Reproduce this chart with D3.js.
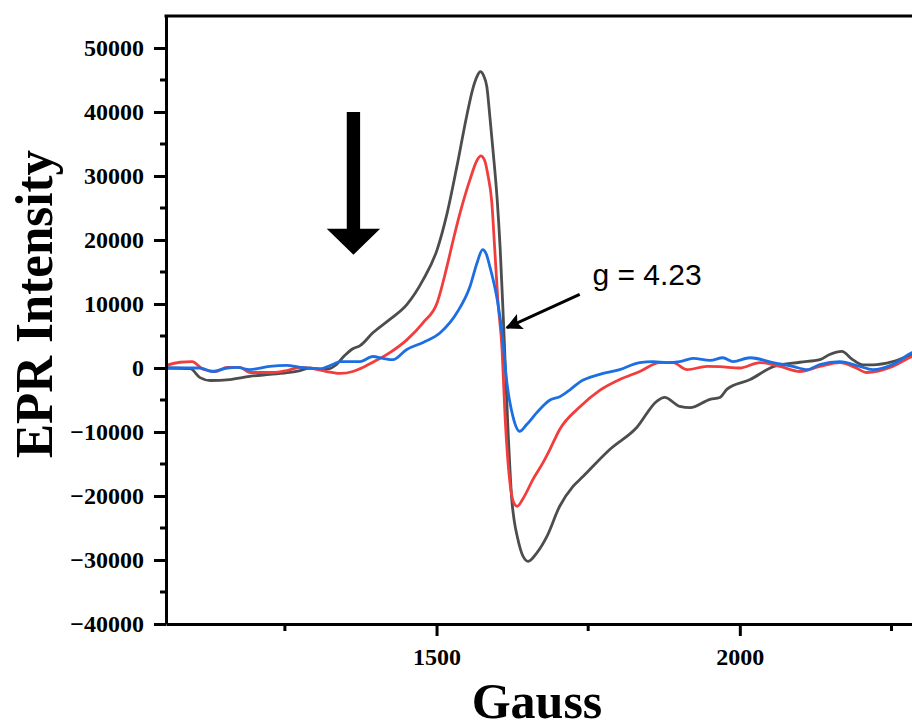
<!DOCTYPE html>
<html>
<head>
<meta charset="utf-8">
<script src="https://cdn.jsdelivr.net/npm/d3@7"></script>
<style>
  body { margin: 0; background: #fff; }
  .ticklabel { font-family: "Liberation Serif", "Times New Roman", serif; font-weight: bold; font-size: 24px; }
  .axistitle { font-family: "Liberation Serif", "Times New Roman", serif; font-weight: bold; }
  .note { font-family: "Liberation Sans", Arial, sans-serif; font-size: 30px; }
</style>
</head>
<body>
<div id="chart"></div>
<script>
// gauss, intensity
let grayData = [
  [1054, 0], [1094, -100], [1110, -1500], [1127, -1950], [1159, -1800], [1192, -1300],
  [1225, -1000], [1258, -700], [1275, -400], [1291, 0], [1308, -200], [1324, -100],
  [1333, 400], [1349, 2000], [1362, 3000], [1374, 3500], [1395, 5500], [1423, 7600],
  [1451, 9900], [1478, 13800], [1501, 18500], [1517, 24000], [1534, 31700], [1550, 39500],
  [1560, 43700], [1567, 45600], [1572, 46300], [1578, 45600], [1583, 43900], [1588, 39200],
  [1593, 34100], [1600, 26300], [1605, 18500], [1610, 8000], [1618, -10000], [1624, -20500],
  [1628, -23800], [1633, -26300], [1642, -29300], [1651, -30200], [1666, -28800], [1682, -26300],
  [1703, -21600], [1725, -18500], [1741, -17000], [1786, -12700], [1830, -9300], [1863, -5200],
  [1876, -4600], [1901, -6000], [1918, -6200], [1951, -4900], [1967, -4600], [1979, -3300],
  [2017, -1800], [2055, 200], [2099, 900], [2132, 1300], [2148, 2100], [2168, 2600],
  [2186, 1300], [2203, 500], [2219, 500], [2252, 1000], [2284, 2100], [2310, 2800]
];

let redData = [
  [1054, 400], [1077, 900], [1097, 1000], [1115, -200], [1135, -550], [1155, 100],
  [1176, 100], [1192, -700], [1209, -700], [1230, -700], [1253, -400], [1275, 100],
  [1296, -100], [1319, -550], [1341, -850], [1362, -550], [1374, -100], [1395, 900],
  [1423, 2400], [1451, 4400], [1478, 7100], [1501, 10200], [1517, 15800], [1527, 19800],
  [1539, 24300], [1555, 29400], [1567, 32500], [1573, 33150], [1579, 32500], [1585, 30000],
  [1591, 26000], [1596, 18500], [1601, 10700], [1608, 2900], [1613, -7600], [1621, -17900],
  [1628, -21200], [1633, -21600], [1642, -20500], [1659, -17400], [1676, -14700], [1687, -12700],
  [1703, -9600], [1736, -6100], [1769, -3500], [1802, -1800], [1835, -550], [1868, 850],
  [1890, 850], [1913, -250], [1946, 250], [1967, 200], [2000, 0], [2033, 850],
  [2066, 250], [2099, -550], [2132, 250], [2165, 850], [2190, 100], [2209, -700],
  [2252, 250], [2284, 1800], [2310, 2600]
];

let blueData = [
  [1054, 0], [1110, 0], [1131, -550], [1155, 0], [1171, 100], [1192, -250],
  [1225, 250], [1253, 400], [1275, 100], [1308, -100], [1329, 550], [1341, 1000],
  [1374, 1000], [1395, 1800], [1412, 1500], [1428, 1300], [1451, 2900], [1478, 4000],
  [1506, 5500], [1534, 8700], [1555, 12700], [1567, 16500], [1576, 18500], [1582, 17800],
  [1588, 15800], [1600, 10700], [1608, 5500], [1616, -2300], [1626, -7600], [1637, -9900],
  [1649, -8800], [1666, -6900], [1687, -5000], [1703, -4500], [1720, -3400], [1736, -2200],
  [1769, -1000], [1802, -250], [1835, 850], [1857, 1000], [1880, 850], [1901, 1000],
  [1923, 1500], [1951, 1200], [1972, 1600], [1989, 1000], [2017, 1600], [2055, 850],
  [2087, 250], [2111, -250], [2132, 550], [2165, 1000], [2198, 250], [2219, -250],
  [2252, 550], [2284, 2400], [2310, 3200]
];

let series = [
  {name: 'gray', color: '#4d4d4d', values: grayData},
  {name: 'red', color: '#f23d3d', values: redData},
  {name: 'blue', color: '#1c6fe2', values: blueData}
];

let xMajorTicks = [1500, 2000];
let xMinorTicks = [1250, 1750, 2250];
let yMajorTicks = [-40000, -30000, -20000, -10000, 0, 10000, 20000, 30000, 40000, 50000];
let yMinorTicks = [-35000, -25000, -15000, -5000, 5000, 15000, 25000, 35000, 45000];

const width = 912, height = 726;
const margin = ({top: 16, right: -28, bottom: 102, left: 166});

let x = d3.scaleLinear()
    .domain([1054, 2330])
    .range([margin.left, width - margin.right]);
let y = d3.scaleLinear()
    .domain([-40000, 55000])
    .range([height - margin.bottom, margin.top]);

let svg = d3.select('#chart').append('svg')
    .attr('width', width)
    .attr('height', height);

svg.append('clipPath').attr('id', 'plotclip')
  .append('rect')
    .attr('x', margin.left).attr('y', margin.top)
    .attr('width', width - margin.right - margin.left)
    .attr('height', height - margin.bottom - margin.top);

let line = d3.line()
    .x(d => x(d[0]))
    .y(d => y(d[1]))
    .curve(d3.curveMonotoneX);

// curves
svg.append('g').attr('clip-path', 'url(#plotclip)')
  .selectAll('path')
  .data(series)
  .enter().append('path')
    .attr('class', d => 'curve ' + d.name)
    .attr('fill', 'none')
    .attr('stroke', d => d.color)
    .attr('stroke-width', 2.8)
    .attr('stroke-linejoin', 'round')
    .attr('d', d => line(d.values));

// y axis: major ticks with labels, minor ticks
let yAxis = d3.axisLeft(y).tickValues(yMajorTicks).tickFormat(d3.format('d'))
    .tickSize(12).tickPadding(10).tickSizeOuter(0);
let yg = svg.append('g')
    .attr('transform', `translate(${margin.left},0)`)
    .call(yAxis);
yg.append('g').selectAll('line')
  .data(yMinorTicks)
  .enter().append('line')
    .attr('x1', -6).attr('x2', 0)
    .attr('y1', d => y(d)).attr('y2', d => y(d));

// x axis
let xAxis = d3.axisBottom(x).tickValues(xMajorTicks).tickFormat(d3.format('d'))
    .tickSize(12).tickPadding(12).tickSizeOuter(0);
let xg = svg.append('g')
    .attr('transform', `translate(0,${height - margin.bottom})`)
    .call(xAxis);
xg.append('g').selectAll('line')
  .data(xMinorTicks)
  .enter().append('line')
    .attr('x1', d => x(d)).attr('x2', d => x(d))
    .attr('y1', 0).attr('y2', 7);

[yg, xg].forEach(g => {
  g.select('.domain').attr('stroke', '#000').attr('stroke-width', 3);
  g.selectAll('line').attr('stroke', '#000').attr('stroke-width', 3);
  g.selectAll('text').attr('class', 'ticklabel').attr('fill', '#000');
  g.attr('font-family', null).attr('font-size', null);
});

// top frame
svg.append('line')
    .attr('x1', margin.left - 1.5).attr('x2', width)
    .attr('y1', margin.top).attr('y2', margin.top)
    .attr('stroke', '#000').attr('stroke-width', 3);

// axis titles
svg.append('text')
    .attr('class', 'axistitle')
    .attr('text-anchor', 'middle')
    .attr('transform', 'translate(52,304) rotate(-90)')
    .attr('font-size', 52)
    .attr('textLength', 308)
    .attr('lengthAdjust', 'spacingAndGlyphs')
    .text('EPR Intensity');

svg.append('text')
    .attr('class', 'axistitle')
    .attr('text-anchor', 'middle')
    .attr('x', 537).attr('y', 718)
    .attr('font-size', 50)
    .text('Gauss');

// big down arrow (in data coords)
let bigArrow = {x: 1363, top: 40000, neck: 21750, tip: 17700, shaft: 22, head: 88};
let ax = x(bigArrow.x), sw = bigArrow.shaft * (x(2000) - x(1500)) / 500 / 2, hw = bigArrow.head * (x(2000) - x(1500)) / 500 / 2;
svg.append('path')
    .attr('fill', '#000')
    .attr('d', `M${ax - sw},${y(bigArrow.top)} L${ax + sw},${y(bigArrow.top)} L${ax + sw},${y(bigArrow.neck)}
      L${ax + hw},${y(bigArrow.neck)} L${ax},${y(bigArrow.tip)} L${ax - hw},${y(bigArrow.neck)}
      L${ax - sw},${y(bigArrow.neck)} Z`);

// g-value annotation
let note = {label: 'g = 4.23', tx: 1757, ty: 13000, from: [1736, 11500], to: [1616, 6300]};

svg.append('defs').append('marker')
    .attr('id', 'head')
    .attr('viewBox', '0 0 10 10')
    .attr('refX', 9).attr('refY', 5)
    .attr('markerWidth', 7).attr('markerHeight', 5.5)
    .attr('markerUnits', 'strokeWidth')
    .attr('orient', 'auto')
  .append('path')
    .attr('d', 'M0,0 L10,5 L0,10 L2,5 Z')
    .attr('fill', '#000');

svg.append('line')
    .attr('x1', x(note.from[0])).attr('y1', y(note.from[1]))
    .attr('x2', x(note.to[0])).attr('y2', y(note.to[1]))
    .attr('stroke', '#000').attr('stroke-width', 3)
    .attr('marker-end', 'url(#head)');

svg.append('text')
    .attr('class', 'note')
    .attr('x', x(note.tx)).attr('y', y(note.ty))
    .text(note.label);
</script>
</body>
</html>
